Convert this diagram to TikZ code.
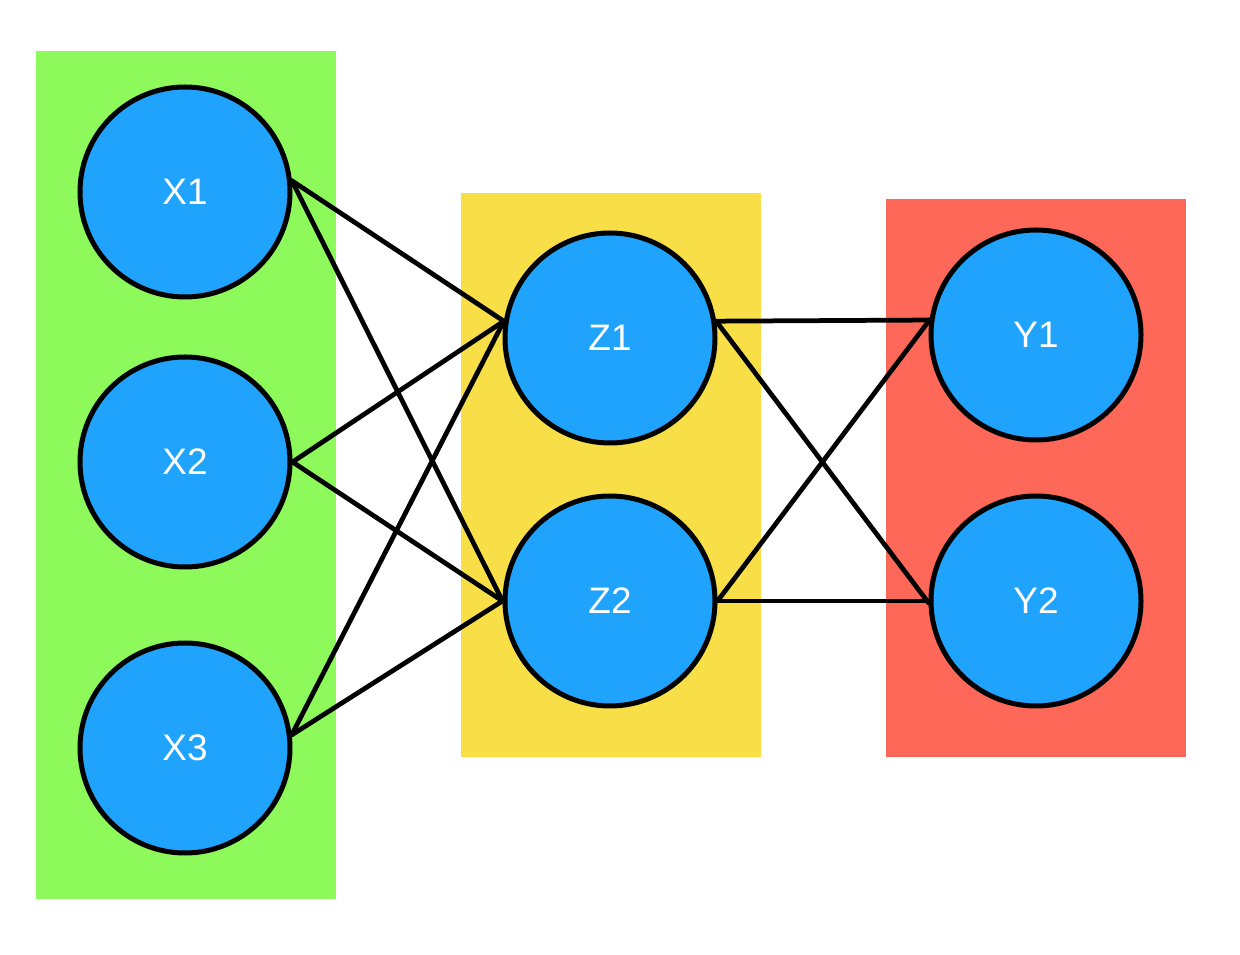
\documentclass[tikz,border=0pt]{standalone}
\usepackage{fontspec}
\setmainfont{Liberation Sans}
\usepackage{xcolor}
\usepackage{tikz}
\usetikzlibrary{positioning}
\definecolor{nnInput}{HTML}{8EF95B}
\definecolor{nnHidden}{HTML}{F8DF48}
\definecolor{nnOutput}{HTML}{FE6859}
\definecolor{nnUnit}{HTML}{1FA3FD}
\tikzset{
  nn diagram/.style={line cap=round, line join=round},
  nn layer/.style={draw=none, rectangle, inner sep=0pt, minimum width=6cm},
  nn unit/.style={circle, draw=black, fill=nnUnit, line width=0.1cm,
    minimum size=4.2cm, inner sep=0pt, text=white, font=\fontsize{21}{23}\selectfont},
  nn edge/.style={draw=black, line width=0.095cm}
}

\begin{document}
\begin{tikzpicture}[nn diagram]
\useasboundingbox (0,0) rectangle (24.8,19.08);
% layer backgrounds
\node[nn layer,fill=nnInput,minimum height=16.96cm] (inlayer) at (3.72,9.58) {};
\node[nn layer,fill=nnHidden,minimum height=11.28cm] (hidlayer) at (12.22,9.58) {};
\node[nn layer,fill=nnOutput,minimum height=11.16cm] (outlayer) at (20.72,9.52) {};
% units
\node[nn unit] (x1) at (3.70,15.24) {X1};
\node[nn unit] (x2) at (3.70,9.84) {X2};
\node[nn unit] (x3) at (3.70,4.12) {X3};
\node[nn unit] (z1) at (12.20,12.32) {Z1};
\node[nn unit] (z2) at (12.20,7.06) {Z2};
\node[nn unit] (y1) at (20.72,12.38) {Y1};
\node[nn unit] (y2) at (20.72,7.06) {Y2};
% input -> hidden
\draw[nn edge] (x1.6) -- (z1.171);
\draw[nn edge] (x1.6) -- (z2.180);
\draw[nn edge] (x2.0) -- (z1.171);
\draw[nn edge] (x2.0) -- (z2.180);
\draw[nn edge] (x3.7) -- (z1.171);
\draw[nn edge] (x3.7) -- (z2.180);
% hidden -> output
\draw[nn edge] (z1.9) -- (y1.172.5);
\draw[nn edge] (z1.9) -- (y2.181);
\draw[nn edge] (z2.0) -- (y1.172.5);
\draw[nn edge] (z2.0) -- (y2.180);
\end{tikzpicture}
\end{document}
